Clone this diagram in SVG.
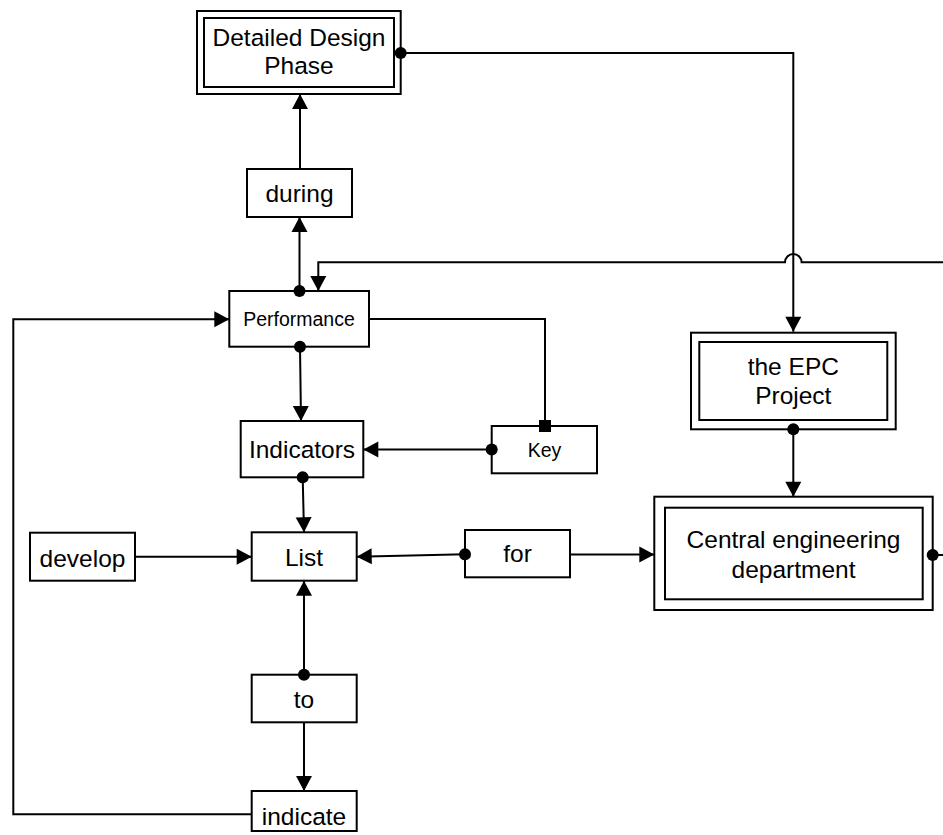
<svg xmlns="http://www.w3.org/2000/svg" width="943" height="835" viewBox="0 0 943 835">
  <style>
    .box { fill: #ffffff; stroke: #000000; stroke-width: 2; }
    .lbl { font-family: "Liberation Sans", Arial, sans-serif; font-size: 24.5px; fill: #000000; text-anchor: middle; }
    .sm { font-size: 19.5px; }
    .wire { fill: none; stroke: #000000; stroke-width: 2; }
  </style>
  <defs>
    <marker id="arrow" markerUnits="userSpaceOnUse" markerWidth="16" markerHeight="17" refX="15" refY="8" orient="auto" overflow="visible">
      <path d="M0,0 L15,8 L0,16 Z" fill="#000000"/>
    </marker>
    <marker id="dot" markerUnits="userSpaceOnUse" markerWidth="13" markerHeight="13" refX="6.5" refY="6.5" orient="auto" overflow="visible">
      <circle cx="6.5" cy="6.5" r="6" fill="#000000"/>
    </marker>
    <marker id="square" markerUnits="userSpaceOnUse" markerWidth="13" markerHeight="13" refX="6.5" refY="6.5" orient="0" overflow="visible">
      <rect x="0.5" y="0.5" width="12" height="12" fill="#000000"/>
    </marker>
  </defs>

  <g id="detailed-design-phase">
    <rect class="box" x="197" y="11" width="203.7" height="83"/>
    <rect class="box" x="204" y="18" width="190" height="69"/>
    <text class="lbl" x="299" y="46">Detailed Design</text>
    <text class="lbl" x="299" y="74">Phase</text>
  </g>

  <g id="during">
    <rect class="box" x="247" y="169" width="105" height="48"/>
    <text class="lbl" x="299.5" y="201.5">during</text>
  </g>

  <g id="performance">
    <rect class="box" x="229.3" y="291" width="139.7" height="55.7"/>
    <text class="lbl sm" x="299" y="326">Performance</text>
  </g>

  <g id="indicators">
    <rect class="box" x="240.7" y="421" width="122.6" height="56.3"/>
    <text class="lbl" x="302" y="458.3">Indicators</text>
  </g>

  <g id="key">
    <rect class="box" x="491.7" y="426" width="105.3" height="47.3"/>
    <text class="lbl sm" x="544.5" y="456.7">Key</text>
  </g>

  <g id="develop">
    <rect class="box" x="30" y="532.7" width="105" height="48"/>
    <text class="lbl" x="82.5" y="566.7">develop</text>
  </g>

  <g id="list">
    <rect class="box" x="251.7" y="532.3" width="105" height="48.4"/>
    <text class="lbl" x="304" y="565.7">List</text>
  </g>

  <g id="for">
    <rect class="box" x="465" y="530" width="105" height="47.3"/>
    <text class="lbl" x="517.5" y="562.3">for</text>
  </g>

  <g id="epc-project">
    <rect class="box" x="691" y="332.7" width="204.7" height="96.6"/>
    <rect class="box" x="699.3" y="342" width="188" height="78"/>
    <text class="lbl" x="793.3" y="375">the EPC</text>
    <text class="lbl" x="793.3" y="404">Project</text>
  </g>

  <g id="central-engineering-department">
    <rect class="box" x="654.3" y="496.7" width="278.4" height="113.3"/>
    <rect class="box" x="665" y="507.7" width="257.7" height="91.6"/>
    <text class="lbl" x="793.5" y="547.7">Central engineering</text>
    <text class="lbl" x="793.5" y="578.3">department</text>
  </g>

  <g id="to">
    <rect class="box" x="251.7" y="674.7" width="105" height="47.6"/>
    <text class="lbl" x="304" y="707.5">to</text>
  </g>

  <g id="indicate">
    <rect class="box" x="251.7" y="791" width="105" height="40"/>
    <text class="lbl" x="304" y="825">indicate</text>
  </g>

  <!-- connectors, drawn last so end markers sit on top of the box borders -->
  <g id="connectors">
    <path class="wire" d="M400.7,53 H793.3 V331.7" marker-start="url(#dot)" marker-end="url(#arrow)"/>
    <path class="wire" d="M299.5,291 V217" marker-start="url(#dot)" marker-end="url(#arrow)"/>
    <path class="wire" d="M300,169 V94" marker-end="url(#arrow)"/>
    <path class="wire" d="M943,262.3 H801.6 A8.3,8.3 0 0 0 785,262.3 H318.3 V291" marker-end="url(#arrow)"/>
    <path class="wire" d="M369,319 H545 V426" marker-end="url(#square)"/>
    <path class="wire" d="M300,346.7 L301,421" marker-start="url(#dot)" marker-end="url(#arrow)"/>
    <path class="wire" d="M491.7,449.5 H363.3" marker-start="url(#dot)" marker-end="url(#arrow)"/>
    <path class="wire" d="M302.7,477.3 L304,532.3" marker-start="url(#dot)" marker-end="url(#arrow)"/>
    <path class="wire" d="M135,556.7 H251.7" marker-end="url(#arrow)"/>
    <path class="wire" d="M465,554.3 L356.7,556.7" marker-start="url(#dot)" marker-end="url(#arrow)"/>
    <path class="wire" d="M570,554.5 H654.3" marker-end="url(#arrow)"/>
    <path class="wire" d="M793.3,429.3 V496.7" marker-start="url(#dot)" marker-end="url(#arrow)"/>
    <path class="wire" d="M932.7,555 H943" marker-start="url(#dot)"/>
    <path class="wire" d="M304,674.7 V580.7" marker-start="url(#dot)" marker-end="url(#arrow)"/>
    <path class="wire" d="M304,722.3 V791" marker-end="url(#arrow)"/>
    <path class="wire" d="M251.7,814.3 H13.3 V319.3 H229.3" marker-end="url(#arrow)"/>
  </g>
</svg>
